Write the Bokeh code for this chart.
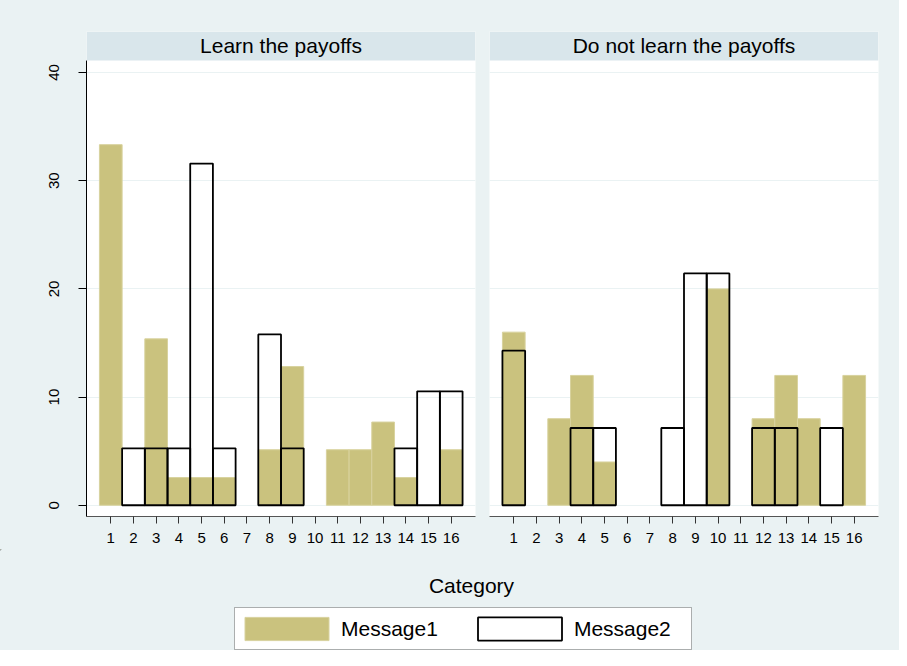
from bokeh.plotting import figure
from bokeh.models import (Range1d, FixedTicker, Grid, BoxAnnotation, Label,
                          Legend, LegendItem, ColumnDataSource)
from bokeh.layouts import row, column
from bokeh.embed import file_html
from bokeh.resources import INLINE

# ---------------- data ----------------
categories = list(range(1, 17))
learn_msg1 = [33.33, 0, 15.38, 2.56, 2.56, 2.56, 0, 5.13, 12.82, 0, 5.13, 5.13, 7.69, 2.56, 0, 5.13]
learn_msg2 = [0, 5.26, 5.26, 5.26, 31.58, 5.26, 0, 15.79, 5.26, 0, 0, 0, 0, 5.26, 10.53, 10.53]
nolearn_msg1 = [16, 0, 8, 12, 4, 0, 0, 0, 0, 20, 0, 8, 12, 8, 0, 12]
nolearn_msg2 = [14.29, 0, 0, 7.14, 7.14, 0, 0, 7.14, 21.43, 21.43, 0, 7.14, 7.14, 0, 7.14, 0]
panel_titles = ["Learn the payoffs", "Do not learn the payoffs"]
y_ticks = [0, 10, 20, 30, 40]
x_title = "Category"
series_names = ["Message1", "Message2"]

# ---------------- style ----------------
OUTER = "#EAF2F3"
STRIP = "#D9E6EB"
TAN = "#CAC27E"
TAN_EDGE = "#D8D29E"
FONT = "Liberation Sans"

X0, X1 = -0.07, 17.07
Y0, Y1 = -1.04, 43.79
STRIP_Y = 41.11
TOP_H = 549


def panel(title, m1, m2, show_y, width, lb, rb):
    p = figure(width=width, height=TOP_H, x_range=Range1d(X0, X1), y_range=Range1d(Y0, Y1),
               output_backend="svg", toolbar_location=None,
               y_axis_location="left" if show_y else None,
               min_border_left=lb, min_border_right=rb,
               min_border_top=31, min_border_bottom=33)
    p.border_fill_color = OUTER
    p.background_fill_color = "white"
    p.outline_line_color = None
    p.center = [r for r in p.center if not isinstance(r, Grid)]
    p.add_layout(Grid(dimension=1, ticker=FixedTicker(ticks=y_ticks),
                      grid_line_color=OUTER, grid_line_width=1))

    p.add_layout(BoxAnnotation(bottom=STRIP_Y, fill_color=STRIP, fill_alpha=1, line_color=None))
    p.add_layout(Label(x=(X0 + X1) / 2, y=(STRIP_Y + Y1) / 2, text=title,
                       text_align="center", text_baseline="middle",
                       text_font=FONT, text_font_size="21px", text_color="black"))

    s1 = ColumnDataSource(dict(x=[c for c, v in zip(categories, m1) if v > 0],
                               top=[v for v in m1 if v > 0]))
    s2 = ColumnDataSource(dict(x=[c for c, v in zip(categories, m2) if v > 0],
                               top=[v for v in m2 if v > 0]))
    p.vbar(x="x", top="top", bottom=0, width=1, source=s1,
           fill_color=TAN, line_color=TAN_EDGE, line_width=1)
    p.vbar(x="x", top="top", bottom=0, width=1, source=s2,
           fill_color=None, line_color="black", line_width=1.8)

    xa = p.xaxis[0]
    xa.ticker = FixedTicker(ticks=categories)
    xa.major_tick_out = 7
    xa.major_tick_in = 0
    xa.minor_tick_out = 0
    xa.minor_tick_in = 0
    xa.axis_line_color = "#555555"
    xa.major_tick_line_color = "#333333"
    xa.major_label_standoff = 9
    xa.major_label_text_font = FONT
    xa.major_label_text_font_size = "15px"
    xa.major_label_text_color = "black"

    if show_y:
        ya = p.yaxis[0]
        ya.ticker = FixedTicker(ticks=y_ticks)
        ya.bounds = (Y0, STRIP_Y)
        ya.major_label_orientation = "vertical"
        ya.major_tick_out = 8
        ya.major_tick_in = 0
        ya.minor_tick_out = 0
        ya.minor_tick_in = 0
        ya.axis_line_color = "black"
        ya.major_tick_line_color = "black"
        ya.major_label_standoff = 19
        ya.major_label_text_font = FONT
        ya.major_label_text_font_size = "15px"
        ya.major_label_text_color = "black"
    return p


left = panel(panel_titles[0], learn_msg1, learn_msg2, True, 482, 86, 7)
right = panel(panel_titles[1], nolearn_msg1, nolearn_msg2, False, 417, 7, 21)

# bottom strip: data units of this figure are pixels (y measured downward)
BW, BH = 899, 101
b = figure(width=BW, height=BH, x_range=Range1d(0, BW), y_range=Range1d(BH, 0),
           output_backend="svg", toolbar_location=None,
           x_axis_location=None, y_axis_location=None, min_border=0)
b.border_fill_color = OUTER
b.background_fill_color = OUTER
b.outline_line_color = None
b.center = [r for r in b.center if not isinstance(r, Grid)]
b.add_layout(Label(x=471, y=36, text=x_title, text_align="center", text_baseline="middle",
                   text_font=FONT, text_font_size="21px", text_color="black"))
# legend frame
b.add_layout(BoxAnnotation(left=234, right=691, top=58, bottom=100, fill_color="white",
                           fill_alpha=1, line_color="black", line_width=1, level="underlay"))
# legend proxies: one off-screen bar each (outside the visible range), used only for the key
r1 = b.vbar(x=[-1000], top=[-1000], bottom=-1000, width=0, fill_color=TAN,
            line_color=TAN_EDGE, line_width=1)
r2 = b.vbar(x=[-1000], top=[-1000], bottom=-1000, width=0, fill_color="white",
            line_color="black", line_width=1.8)
legend = Legend(items=[LegendItem(label=series_names[0], renderers=[r1]),
                       LegendItem(label=series_names[1], renderers=[r2])],
                location=(234, 7), orientation="horizontal",
                padding=0, spacing=29, glyph_width=105, glyph_height=29,
                label_standoff=2, label_text_font=FONT, label_text_font_size="21px",
                label_text_baseline="middle", label_text_color="black",
                border_line_color=None, background_fill_alpha=0)
b.add_layout(legend)

layout = column(row(left, right, styles={"background-color": OUTER}), b,
                styles={"background-color": OUTER})
open("out.html", "w").write(file_html(layout, INLINE))
